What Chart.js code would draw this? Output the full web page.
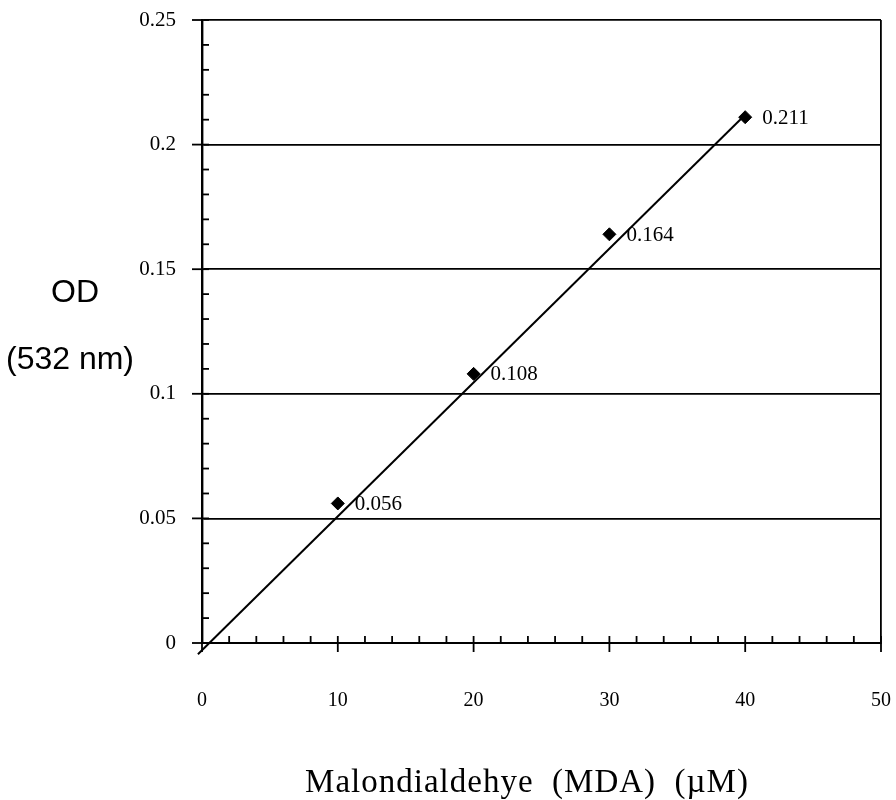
<!DOCTYPE html>
<html>
<head>
<meta charset="utf-8">
<script src="https://cdn.jsdelivr.net/npm/chart.js@4.4.1/dist/chart.umd.min.js"></script>
<style>
  html, body { margin: 0; padding: 0; background: #fff; }
  #wrap { width: 896px; height: 800px; position: relative; }
</style>
</head>
<body>
<div id="wrap"><canvas id="c" width="896" height="800"></canvas></div>
<script>
// ---- data ----
const mdaConc = [10, 20, 30, 40];                 // µM
const odValues = [0.056, 0.108, 0.164, 0.211];    // OD 532 nm
const pointLabels = ['0.056', '0.108', '0.164', '0.211'];
const trendX = [-0.3, 40];
const trendY = [-0.0045, 0.212];
const xTickValues = [0, 10, 20, 30, 40, 50];
const yTickValues = [0, 0.05, 0.1, 0.15, 0.2, 0.25];
const yTitleLines = ['OD', '(532 nm)'];
const xTitle = 'Malondialdehye  (MDA)  (\u00B5M)';

const serif = '"Liberation Serif", "Times New Roman", serif';
const sans = '"Liberation Sans", Arial, sans-serif';

const AXIS_LEFT = 202;
const AXIS_BOTTOM = 643;

const extrasPlugin = {
  id: 'extras',
  afterDraw(chart) {
    const { ctx, scales: { x, y }, chartArea } = chart;
    const ax = chartArea.left, ay = chartArea.bottom;
    ctx.save();
    ctx.strokeStyle = '#000';
    ctx.lineWidth = 1.8;
    // y axis ticks: minor every 0.01 (inside), major every 0.05 (crossing)
    for (let i = 0; i <= 25; i++) {
      const py = y.getPixelForValue(i * 0.01);
      const major = i % 5 === 0;
      ctx.beginPath();
      ctx.moveTo(major ? ax - 10 : ax, py);
      ctx.lineTo(ax + 7, py);
      ctx.stroke();
    }
    // x axis ticks: minor every 2 (inside), major every 10 (crossing)
    for (let i = 0; i <= 25; i++) {
      const v = i * 2;
      const px = x.getPixelForValue(v);
      const major = v % 10 === 0;
      ctx.beginPath();
      ctx.moveTo(px, ay - 7);
      ctx.lineTo(px, major ? ay + 9 : ay);
      ctx.stroke();
    }
    // point value labels
    const meta = chart.getDatasetMeta(1);
    ctx.fillStyle = '#000';
    ctx.font = '21px ' + serif;
    ctx.textAlign = 'left';
    ctx.textBaseline = 'middle';
    meta.data.forEach((el, i) => {
      ctx.fillText(pointLabels[i], el.x + 17, el.y + 1);
    });
    // axis titles
    ctx.font = '32px ' + sans;
    ctx.textAlign = 'center';
    ctx.fillText(yTitleLines[0], 75, 293);
    ctx.fillText(yTitleLines[1], 70, 360);
    ctx.font = '33px ' + serif;
    if ('letterSpacing' in ctx) ctx.letterSpacing = '1px';
    ctx.fillText(xTitle, 527, 783);
    ctx.restore();
  }
};

new Chart(document.getElementById('c'), {
  data: {
    datasets: [
      {
        type: 'line',
        data: trendX.map((v, i) => ({ x: v, y: trendY[i] })),
        borderColor: '#000',
        borderWidth: 2,
        pointRadius: 0,
        fill: false,
        tension: 0,
        clip: false,
        order: 2
      },
      {
        type: 'scatter',
        data: mdaConc.map((v, i) => ({ x: v, y: odValues[i] })),
        pointStyle: 'rectRot',
        pointRadius: 6.5,
        backgroundColor: '#000',
        borderColor: '#000',
        order: 1
      }
    ]
  },
  options: {
    responsive: false,
    animation: false,
    devicePixelRatio: 1,
    layout: { autoPadding: false, padding: { left: 0, right: 15, top: 20, bottom: 0 } },
    plugins: {
      legend: { display: false },
      tooltip: { enabled: false }
    },
    scales: {
      x: {
        type: 'linear',
        min: 0,
        max: 50,
        afterBuildTicks: (s) => { s.ticks = xTickValues.map(v => ({ value: v })); },
        afterFit: (s) => { s.height = 800 - AXIS_BOTTOM; s.paddingLeft = 0; s.paddingRight = 0; },
        ticks: {
          color: '#000',
          font: { family: serif, size: 20 },
          padding: 46,
          maxRotation: 0
        },
        grid: {
          drawTicks: false,
          color: (c) => (c.tick && c.tick.value === 50) ? '#000' : 'rgba(0,0,0,0)',
          lineWidth: 1.8
        },
        border: { display: true, color: '#000', width: 2 }
      },
      y: {
        type: 'linear',
        min: 0,
        max: 0.25,
        afterBuildTicks: (s) => { s.ticks = yTickValues.map(v => ({ value: v })); },
        afterFit: (s) => { s.width = AXIS_LEFT; s.paddingTop = 0; s.paddingBottom = 0; },
        ticks: {
          color: '#000',
          font: { family: serif, size: 21 },
          padding: 26,
          callback: (v) => String(Number(v.toFixed(2)))
        },
        grid: {
          drawTicks: false,
          color: '#000',
          lineWidth: 1.8
        },
        border: { display: true, color: '#000', width: 2.4 }
      }
    }
  },
  plugins: [extrasPlugin]
});
</script>
</body>
</html>
